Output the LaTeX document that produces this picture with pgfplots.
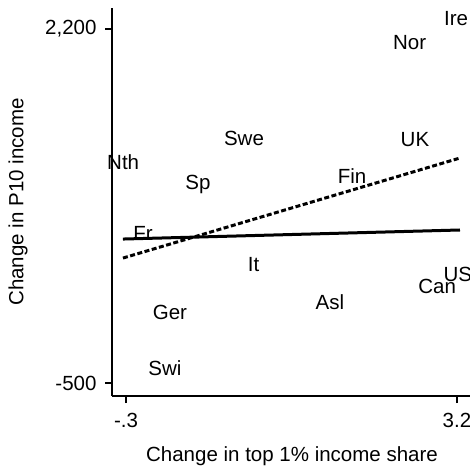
\documentclass[border=0pt]{standalone}
\usepackage{pgfplots}
\pgfplotsset{compat=1.18}
\usepackage{pgfplotstable}
\usepackage{fontspec}
\setmainfont{Liberation Sans}
\newcommand{\cf}{\fontsize{20.5}{24}\selectfont}
\pgfplotstableread{
x y label
3.19 2284 Ire
2.70 2101 Nor
0.948 1369 Swe
2.756 1361 UK
-0.33 1186 Nth
0.461 1033 Sp
2.09 1079 Fin
-0.12 644 Fr
1.05 407 It
1.857 118 Asl
2.99 240 Can
3.21 331 US
0.165 41 Ger
0.112 -386 Swi
}\countries
\begin{document}
\begin{tikzpicture}[font=\cf]
\begin{axis}[
  at={(0pt,0pt)}, anchor=south west,
  scale only axis, width=360pt, height=388pt,
  xmin=-0.448, xmax=3.359, ymin=-599, ymax=2360,
  axis x line*=bottom, axis y line*=left,
  axis line style={line width=1.2pt, -},
  xtick={-0.3,3.2}, xticklabels={-.3,3.2},
  ytick={-500,2200}, yticklabels={-500,{2,200}},
  tick align=outside, major tick length=7pt,
  tick style={line width=1.2pt, black},
  tick label style={font=\cf},
  xticklabel style={yshift=-7pt},
  yticklabel style={xshift=-5pt},
  label style={font=\cf},
  /pgf/number format/assume math mode=true,
  xlabel={Change in top 1\% income share},
  ylabel={Change in P10 income},
  xlabel style={at={(axis description cs:0.5,-0.1546)}, anchor=center},
  ylabel style={at={(axis description cs:-0.2611,0.5)}, anchor=center, rotate=0},
  clip=false,
]
\addplot[only marks, mark=none, nodes near coords, point meta=explicit symbolic,
  nodes near coords style={anchor=center, font=\cf, text height=14.7pt, text depth=0pt, inner sep=0pt}]
  table[x=x, y=y, meta=label] {\countries};
\addplot[black, line width=3pt] coordinates {(-0.332,598) (3.232,667)};
\addplot[black, line width=3pt, dash pattern=on 5pt off 2.5pt] coordinates {(-0.332,453) (3.232,1216)};
\end{axis}
\pgfresetboundingbox
\path[use as bounding box] (-112pt,-75pt) rectangle (358pt,396pt);
\end{tikzpicture}
\end{document}
